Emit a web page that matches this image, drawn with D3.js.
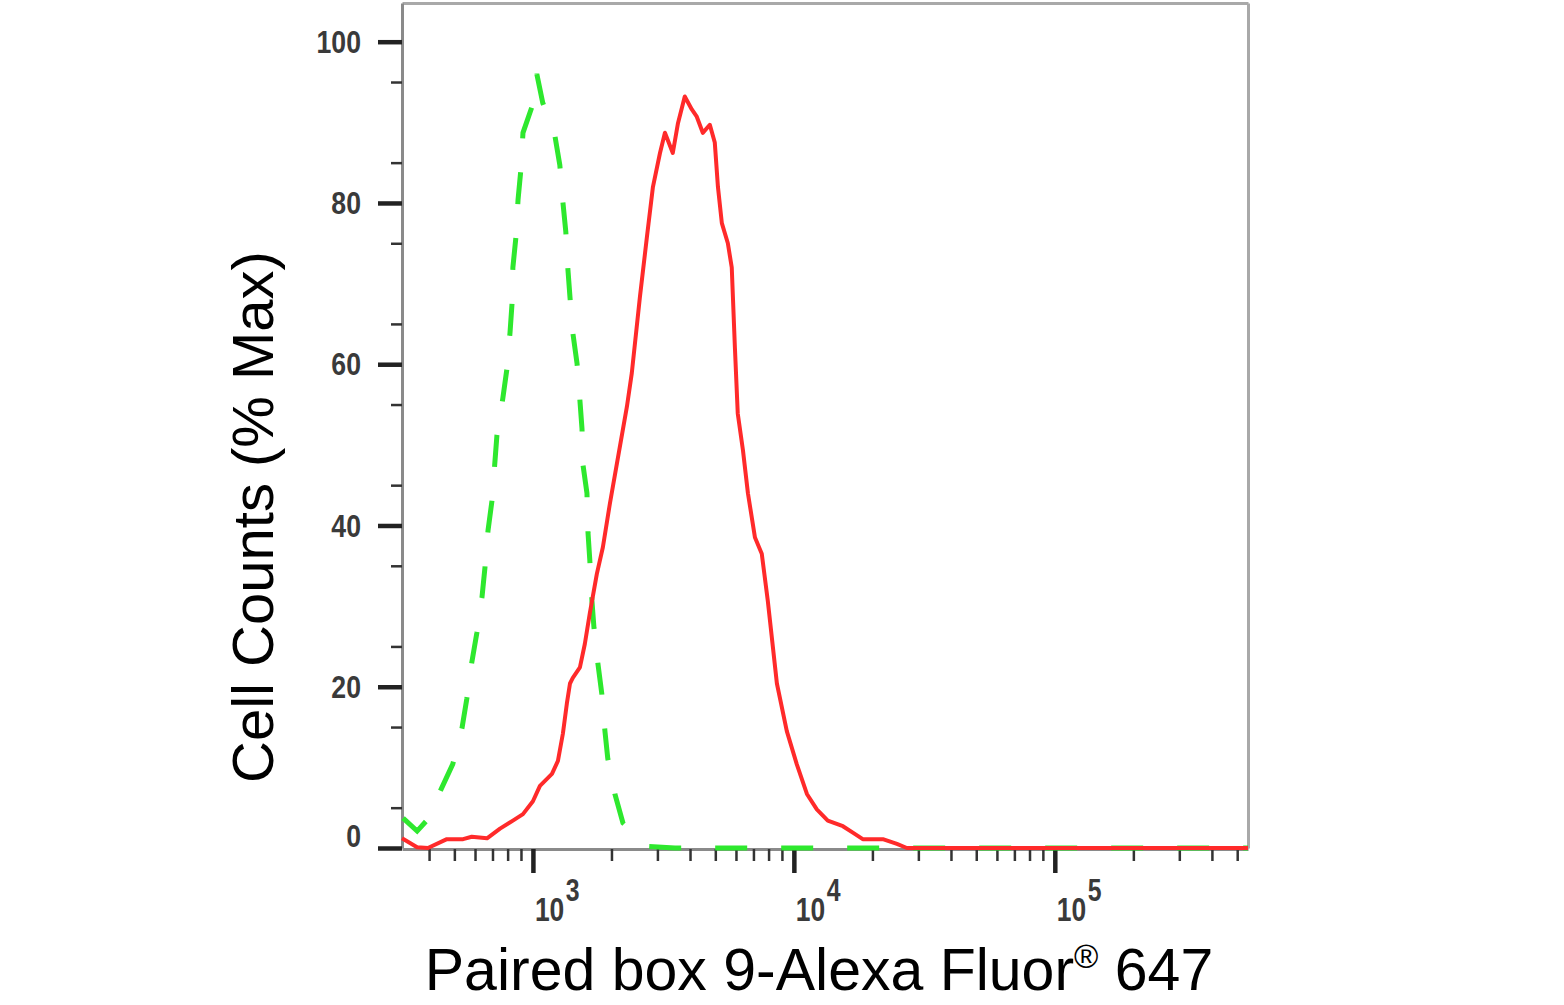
<!DOCTYPE html>
<html>
<head>
<meta charset="utf-8">
<script src="https://cdn.jsdelivr.net/npm/d3@7/dist/d3.min.js"></script>
<style>
  body { margin: 0; background: #fff; }
  text { font-family: "Liberation Sans", Arial, sans-serif; }
</style>
</head>
<body>
<svg id="chart" width="1564" height="1005"></svg>
<script>
// isotype control (green dashed)
const ctrlIntensity = [318, 360, 389, 445, 493, 535, 558, 583, 610, 638, 655, 673, 697, 714, 728,
  767, 794, 817, 832, 838, 861, 877, 899, 916, 991, 1035,
  1091, 1213, 1268, 1303, 1337, 1361, 1387, 1422, 1476, 1514, 1542, 1556, 1611, 1626, 1652,
  1683, 1714, 1774, 1837, 1888, 1936, 2061, 2213, 2761, 3500, 550000];
const ctrlPercent = [3.7, 2.1, 3.3, 7.3, 10.4, 14.9, 18.5, 23.0, 26.7, 31.1, 34.8, 39.4, 43.1, 47.6, 51.2,
  55.8, 59.3, 63.9, 67.6, 72.0, 75.8, 80.4, 84.1, 88.7, 91.9, 96.0,
  92.4, 88.4, 84.7, 80.1, 76.4, 71.9, 68.3, 63.9, 60.1, 55.5, 52.0, 47.5, 44.0, 39.1, 35.7,
  30.7, 27.3, 22.9, 19.1, 14.5, 11.1, 6.7, 3.1, 0.2, 0, 0];

// Paired box 9 stained sample (red)
const sampleIntensity = [315, 360, 396, 468, 540, 583, 667, 748, 838, 916, 1000, 1064, 1183, 1247,
  1303, 1349, 1387, 1422, 1514, 1581, 1652, 1758, 1854, 1972, 2099, 2291, 2393, 2570, 2735,
  2884, 3069, 3206, 3436, 3597, 3819, 4064, 4246, 4477, 4764, 4977, 5117, 5297, 5585, 5781,
  5943, 6095, 6383, 6668, 7096, 7534, 7943, 8610, 9397, 10257, 11220, 12246, 13490, 15417,
  16827, 18365, 21928, 24831, 27101, 550000];
const samplePercent = [1.2, 0.1, 0, 1.1, 1.1, 1.4, 1.2, 2.4, 3.4, 4.2, 5.8, 7.7, 9.2, 10.8,
  14.2, 17.9, 20.4, 21.1, 22.4, 25.3, 29.1, 34.0, 37.3, 42.7, 47.7, 54.7, 58.9, 68.3, 75.8,
  82.0, 86.2, 88.7, 86.2, 89.9, 93.2, 91.6, 90.7, 88.7, 89.7, 87.5, 82.0, 77.5, 75.0, 72.0,
  62.1, 53.9, 49.3, 44.0, 38.5, 36.5, 30.7, 20.4, 14.5, 10.4, 6.7, 4.8, 3.4, 2.7,
  1.9, 1.1, 1.1, 0.5, 0, 0];

const yTicks = [0, 20, 40, 60, 80, 100];
const xDecades = [3, 4, 5];
const xTitle = "Paired box 9-Alexa Fluor";
const yTitle = "Cell Counts (% Max)";

const width = 1564, height = 1005;
const margin = {top: 3, right: 316, bottom: 157, left: 402},
  innerwidth = width - margin.left - margin.right,
  innerheight = height - margin.top - margin.bottom;

const xScale = d3.scaleLog().domain([315, 550000]).range([0, innerwidth]);
const yScale = d3.scaleLinear().domain([0, 104.8]).range([innerheight, 0]);

const svg = d3.select("#chart").append("g")
  .attr("transform", "translate(" + margin.left + "," + margin.top + ")");

// minor ticks on the log axis (2..9 x 10^k)
const minorX = [];
for (let k = 2; k <= 5; k++) {
  for (let m = 2; m <= 9; m++) {
    const v = m * Math.pow(10, k);
    if (v >= 315 && v <= 550000) minorX.push(v);
  }
}
const majorX = xDecades.map(d => Math.pow(10, d));
const minorY = d3.range(5, 105, 10);

// frame top and right
svg.append("g")
  .call(d3.axisTop(xScale).tickValues([]).tickSizeOuter(0))
  .call(g => g.select(".domain").attr("stroke", "#a9a9a9").attr("stroke-width", 3));
svg.append("g")
  .attr("transform", "translate(" + innerwidth + ",0)")
  .call(d3.axisRight(yScale).tickValues([]).tickSizeOuter(0))
  .call(g => g.select(".domain").attr("stroke", "#a9a9a9").attr("stroke-width", 3));

// x axis
svg.append("g")
  .attr("transform", "translate(0," + (innerheight + 1) + ")")
  .call(d3.axisBottom(xScale).tickValues(minorX).tickSize(12).tickSizeOuter(0).tickFormat(""))
  .call(g => g.select(".domain").attr("stroke", "#8a8a8a").attr("stroke-width", 3))
  .call(g => g.selectAll(".tick line").attr("stroke", "#333").attr("stroke-width", 2.5));
svg.append("g")
  .attr("transform", "translate(0," + (innerheight + 1) + ")")
  .call(d3.axisBottom(xScale).tickValues(majorX).tickSize(24).tickFormat(""))
  .call(g => g.select(".domain").remove())
  .call(g => g.selectAll(".tick line").attr("stroke", "#222").attr("stroke-width", 4.5));

// y axis
svg.append("g")
  .call(d3.axisLeft(yScale).tickValues(minorY).tickSize(11).tickSizeOuter(0).tickFormat(""))
  .call(g => g.select(".domain").attr("stroke", "#8a8a8a").attr("stroke-width", 3))
  .call(g => g.selectAll(".tick line").attr("stroke", "#333").attr("stroke-width", 2.5));
svg.append("g")
  .call(d3.axisLeft(yScale).tickValues(yTicks).tickSize(24).tickFormat(""))
  .call(g => g.select(".domain").remove())
  .call(g => g.selectAll(".tick line").attr("stroke", "#222").attr("stroke-width", 4.5));

// y tick labels
svg.selectAll(".ylab").data(yTicks).enter().append("text")
  .attr("class", "ylab")
  .attr("transform", d => "translate(-41," + (yScale(d) - (d === 0 ? 12 : 0)) + ") scale(0.86,1)")
  .attr("dy", "0.36em")
  .attr("text-anchor", "end")
  .attr("font-size", 31)
  .attr("font-weight", "bold")
  .attr("fill", "#3a3a3a")
  .text(d => d);

// x tick labels 10^k
const xl = svg.selectAll(".xlab").data(xDecades).enter().append("text")
  .attr("class", "xlab")
  .attr("transform", d => "translate(" + (xScale(Math.pow(10, d)) + 2) + "," + (innerheight + 73) + ") scale(0.8,1)")
  .attr("font-size", 33)
  .attr("font-weight", "bold")
  .attr("fill", "#3a3a3a");
xl.append("tspan").text("10");
xl.append("tspan").attr("dx", 2).attr("dy", -20).attr("font-size", 31).text(d => d);

// curves
const line = d3.line()
  .x(d => xScale(d[0]))
  .y(d => yScale(d[1]));

svg.append("path")
  .datum(d3.zip(ctrlIntensity, ctrlPercent))
  .attr("d", line)
  .attr("fill", "none")
  .attr("stroke", "#2ee82e")
  .attr("stroke-width", 5)
  .attr("stroke-dasharray", "32,34");

svg.append("path")
  .datum(d3.zip(sampleIntensity, samplePercent))
  .attr("d", line)
  .attr("fill", "none")
  .attr("stroke", "#ff2a2a")
  .attr("stroke-width", 4)
  .attr("stroke-linejoin", "round");

// axis titles
const root = d3.select("#chart");
const xt = root.append("text")
  .attr("x", 819)
  .attr("y", 990)
  .attr("text-anchor", "middle")
  .attr("font-size", 59)
  .attr("fill", "#000");
xt.append("tspan").text(xTitle);
xt.append("tspan").attr("dy", -22).attr("font-size", 33).text("\u00AE");
xt.append("tspan").attr("dy", 22).text(" 647");

root.append("text")
  .attr("transform", "translate(273,517) rotate(-90)")
  .attr("text-anchor", "middle")
  .attr("font-size", 58)
  .attr("fill", "#000")
  .text(yTitle);
</script>
</body>
</html>
